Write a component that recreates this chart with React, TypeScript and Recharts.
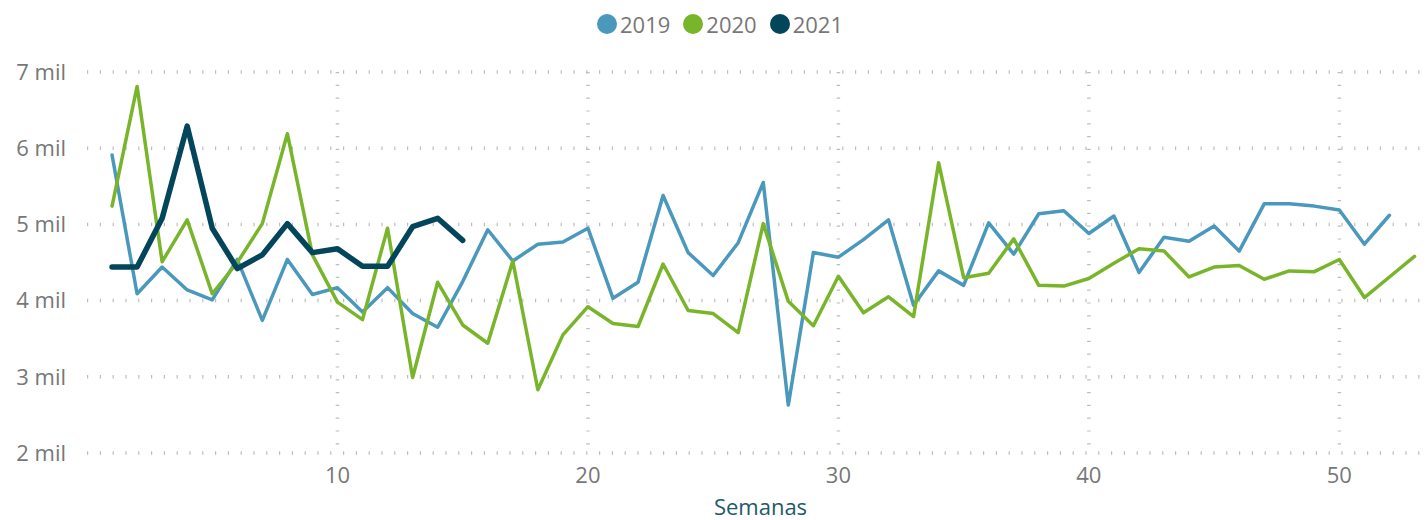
import React from 'react';
import { LineChart, Line, XAxis, YAxis, CartesianGrid, Label } from 'recharts';

const FONT = "'Segoe UI', 'Open Sans', 'Noto Sans', sans-serif";

const weeks = [
  1, 2, 3, 4, 5, 6, 7, 8, 9, 10, 11, 12, 13, 14, 15, 16, 17, 18, 19, 20,
  21, 22, 23, 24, 25, 26, 27, 28, 29, 30, 31, 32, 33, 34, 35, 36, 37, 38, 39, 40,
  41, 42, 43, 44, 45, 46, 47, 48, 49, 50, 51, 52, 53,
];

const sales2019 = [
  5910, 4090, 4440, 4140, 4010, 4540, 3740, 4540, 4080, 4170,
  3850, 4170, 3830, 3650, 4250, 4930, 4520, 4740, 4770, 4950,
  4030, 4240, 5380, 4630, 4330, 4760, 5550, 2630, 4630, 4570,
  4800, 5060, 3940, 4390, 4200, 5020, 4610, 5140, 5180, 4880,
  5110, 4370, 4830, 4780, 4980, 4650, 5270, 5270, 5240, 5190,
  4740, 5120,
];

const sales2020 = [
  5240, 6810, 4510, 5060, 4090, 4500, 5010, 6190, 4600, 3980,
  3750, 4950, 2990, 4240, 3680, 3440, 4520, 2830, 3550, 3920,
  3700, 3660, 4480, 3870, 3830, 3580, 5010, 3990, 3670, 4320,
  3840, 4050, 3790, 5810, 4300, 4360, 4810, 4200, 4190, 4290,
  4490, 4680, 4650, 4310, 4440, 4460, 4280, 4390, 4380, 4540,
  4040, 4310, 4580,
];

const sales2021 = [
  4440, 4440, 5080, 6290, 4950, 4420, 4600, 5010, 4630, 4680,
  4450, 4450, 4970, 5080, 4790,
];

const xTicks = [10, 20, 30, 40, 50];
const yTicks = [2000, 3000, 4000, 5000, 6000, 7000];

const series = [
  { key: 'y2019', name: '2019', color: '#4a98bc', width: 3.5 },
  { key: 'y2020', name: '2020', color: '#78b52a', width: 3.5 },
  { key: 'y2021', name: '2021', color: '#03455a', width: 5.5 },
];

const data = weeks.map((w, i) => ({
  week: w,
  y2019: sales2019[i] ?? null,
  y2020: sales2020[i] ?? null,
  y2021: sales2021[i] ?? null,
}));

export default function App() {
  return (
    <div style={{ position: 'absolute', top: 0, left: 0, width: 1426, height: 520, background: '#fff' }}>
      {/* legend */}
      <div style={{
        position: 'absolute',
        top: 8,
        left: 597,
        display: 'flex',
        alignItems: 'center',
        gap: 13,
        fontFamily: FONT,
        fontSize: 22,
        color: '#777',
        lineHeight: '32px',
      }}>
        {series.map(s => (
          <span key={s.key} style={{ display: 'flex', alignItems: 'center', gap: 3 }}>
            <span style={{ display: 'inline-block', width: 20, height: 20, borderRadius: 10, background: s.color }} />
            {s.name}
          </span>
        ))}
      </div>

      <LineChart
        width={1426}
        height={520}
        data={data}
        margin={{ top: 72, right: 4, bottom: 0, left: 0 }}
      >
        <CartesianGrid
          stroke="#bdbdbd"
          strokeWidth={3.5}
          strokeDasharray="1.2 11.6"
          horizontalValues={yTicks}
          verticalValues={xTicks}
        />
        <XAxis
          dataKey="week"
          type="number"
          domain={[0, 53.3]}
          ticks={xTicks}
          axisLine={false}
          tickLine={false}
          tickSize={0}
          tickMargin={14}
          height={67}
          tick={{ fontFamily: FONT, fontSize: 22, fill: '#777' }}
        >
          <Label
            value="Semanas"
            position="insideBottom"
            offset={5}
            dx={6}
            style={{ fontFamily: FONT, fontSize: 22, fill: '#1d5a6b' }}
          />
        </XAxis>
        <YAxis
          type="number"
          domain={[2000, 7000]}
          ticks={yTicks}
          tickFormatter={(v: number) => `${v / 1000} mil`}
          axisLine={false}
          tickLine={false}
          tickSize={0}
          tickMargin={21}
          width={87}
          tick={{ fontFamily: FONT, fontSize: 22, fill: '#777' }}
        />
        {series.map(s => (
          <Line
            key={s.key}
            type="linear"
            dataKey={s.key}
            stroke={s.color}
            strokeWidth={s.width}
            strokeLinejoin="round"
            strokeLinecap="round"
            dot={false}
            activeDot={false}
            isAnimationActive={false}
          />
        ))}
      </LineChart>
    </div>
  );
}
